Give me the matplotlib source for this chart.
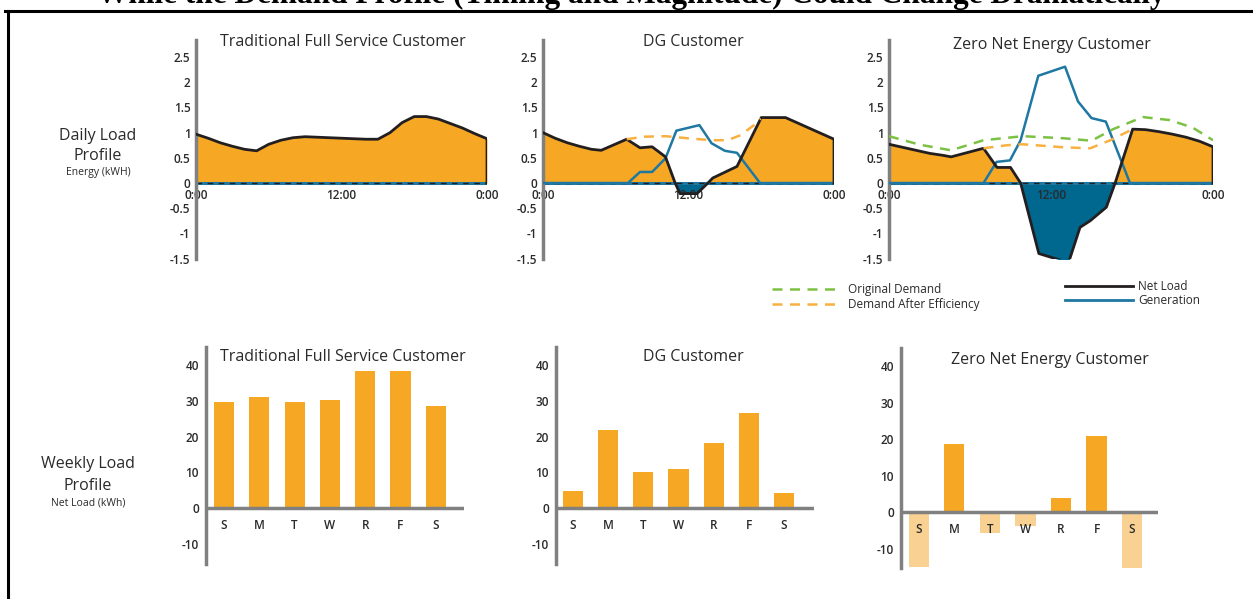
import numpy as np
import matplotlib.pyplot as plt
from matplotlib.lines import Line2D
from matplotlib.ticker import FuncFormatter

plt.rcParams['font.family'] = ['Open Sans', 'DejaVu Sans']
plt.rcParams['axes.unicode_minus'] = False

# ---- daily load profiles (kWh) ----
trad_hours = list(range(25))
trad_net = [0.97, 0.89, 0.80, 0.73, 0.67, 0.64, 0.77, 0.85, 0.90, 0.92, 0.91, 0.90, 0.89,
            0.88, 0.87, 0.87, 1.00, 1.20, 1.32, 1.32, 1.27, 1.18, 1.09, 0.98, 0.88]

dg_hours = [0, 1, 2, 3, 4, 4.8, 6.9, 8.0, 9.0, 10.1, 10.9, 11.3, 12.7, 13.6, 14.0, 16.0, 18.0, 20.0, 24.0]
dg_net = [1.0, 0.89, 0.80, 0.73, 0.67, 0.65, 0.87, 0.70, 0.72, 0.52, 0.0, -0.21, -0.21, 0.0, 0.1, 0.33, 1.3, 1.3, 0.87]
dg_eff_hours = [6.9, 8.3, 10.1, 11.9, 13.9, 15.2, 16.3, 17.4, 17.95]
dg_eff = [0.87, 0.92, 0.93, 0.89, 0.85, 0.85, 0.95, 1.15, 1.28]
dg_gen_hours = [0, 7.0, 8.0, 9.0, 10.1, 11.0, 12.9, 13.9, 15.0, 16.0, 17.9, 24]
dg_gen = [0, 0, 0.22, 0.22, 0.49, 1.04, 1.15, 0.79, 0.64, 0.60, 0, 0]

zne_hours = [0, 1, 2, 3, 4, 4.6, 7.0, 8.0, 9.0, 9.75, 11.1, 13.3, 14.15, 14.9, 16.1, 16.75,
             18.05, 19, 20, 21, 22, 23, 24]
zne_net = [0.77, 0.71, 0.65, 0.59, 0.55, 0.52, 0.69, 0.31, 0.31, 0.0, -1.4, -1.58, -0.88, -0.75,
           -0.48, 0.0, 1.07, 1.06, 1.02, 0.97, 0.91, 0.83, 0.72]
zne_orig_hours = [0, 2.3, 4.6, 7.0, 9.9, 12.9, 15.0, 16.6, 18.8, 20.8, 22.5, 24]
zne_orig = [0.93, 0.76, 0.65, 0.85, 0.93, 0.89, 0.84, 1.07, 1.31, 1.25, 1.10, 0.85]
zne_eff_hours = [7.0, 8.7, 9.9, 12.9, 14.9, 16.4, 18.05]
zne_eff = [0.69, 0.75, 0.77, 0.71, 0.69, 0.85, 1.07]
zne_gen_hours = [0, 7.0, 7.97, 8.96, 9.75, 11.06, 13.04, 14.0, 15.0, 16.06, 17.85, 24]
zne_gen = [0, 0, 0.42, 0.45, 0.85, 2.13, 2.31, 1.62, 1.29, 1.22, 0, 0]

# ---- weekly net load (kWh) ----
days = ['S', 'M', 'T', 'W', 'R', 'F', 'S']
trad_week = [29.6, 31.0, 29.6, 30.3, 38.2, 38.2, 28.5]
dg_week = [4.8, 21.8, 10.0, 10.9, 18.3, 26.7, 4.1]
zne_week = [-15.0, 18.8, -5.6, -3.8, 3.75, 20.9, -15.4]

titles = ['Traditional Full Service Customer', 'DG Customer', 'Zero Net Energy Customer']

ORANGE = '#F6A824'
LIGHT = '#F8D193'
DARKBLUE = '#00678F'
GENBLUE = '#1E78A2'
BLACK = '#231F20'
GREEN = '#7CC143'
ORDASH = '#F8B040'
GRAY = '#808080'
TXT = '#2A2A2A'

W, H = 1253, 599
fig = plt.figure(figsize=(W / 100, H / 100), dpi=100, facecolor='white')


def add_ax(left, top, right, bottom):
    return fig.add_axes([left / W, 1 - bottom / H, (right - left) / W, (bottom - top) / H])


def daily(ax, hours, net, title, tx, ty, orig=None, eff=None, gen=None):
    h = np.array(hours, float)
    n = np.array(net, float)
    ax.fill_between(h, n, 0, where=n >= 0, interpolate=True, color=ORANGE, lw=0)
    ax.fill_between(h, n, 0, where=n <= 0, interpolate=True, color=DARKBLUE, lw=0)
    ax.plot([0, 24], [0, 0], color=GENBLUE, lw=2.2)
    ax.plot([0, 24], [0, 0], color=BLACK, lw=1.0, ls=(0, (4, 4)))
    if gen is not None:
        ax.plot(gen[0], gen[1], color=GENBLUE, lw=1.8, zorder=4)
    ax.plot(list(h) + [24], list(n) + [0], color=BLACK, lw=2, zorder=5)
    if eff is not None:
        ax.plot(eff[0], eff[1], color=ORDASH, lw=1.8, ls=(0, (4, 3)), zorder=6)
    if orig is not None:
        ax.plot(orig[0], orig[1], color=GREEN, lw=1.8, ls=(0, (4, 3)), zorder=6)
    ax.set_xlim(0, 24)
    ax.set_ylim(-1.5, 2.84)
    ax.set_yticks([2.5, 2, 1.5, 1, 0.5, 0, -0.5, -1, -1.5])
    ax.yaxis.set_major_formatter(FuncFormatter(lambda v, p: '%g' % v))
    ax.set_xticks([0, 12, 24])
    ax.set_xticklabels(['0:00', '12:00', '0:00'])
    ax.get_xticklabels()[0].set_ha('left')
    ax.spines['bottom'].set_position(('data', 0))
    ax.spines['bottom'].set_visible(False)
    for s in ['top', 'right']:
        ax.spines[s].set_visible(False)
    ax.spines['left'].set_color(GRAY)
    ax.spines['left'].set_linewidth(2.5)
    ax.tick_params(axis='y', length=0, pad=4, labelsize=8.5, labelcolor=TXT)
    ax.tick_params(axis='x', length=0, pad=4, labelsize=8.5, labelcolor=TXT)
    for t in ax.get_xticklabels() + ax.get_yticklabels():
        t.set_fontweight('semibold')
    ax.patch.set_alpha(0)
    fig.text(tx / W, 1 - ty / H, title, ha='center', va='center', fontsize=11.5, color=TXT)


ax1 = add_ax(196, 40, 487, 258.6)
daily(ax1, trad_hours, trad_net, titles[0], 343, 42)
ax2 = add_ax(543, 40, 834, 258.6)
daily(ax2, dg_hours, dg_net, titles[1], 693, 42,
      eff=(dg_eff_hours, dg_eff), gen=(dg_gen_hours, dg_gen))
ax3 = add_ax(889, 40, 1213, 258.6)
daily(ax3, zne_hours, zne_net, titles[2], 1052, 45,
      orig=(zne_orig_hours, zne_orig), eff=(zne_eff_hours, zne_eff),
      gen=(zne_gen_hours, zne_gen))


def weekly(ax, vals, title, tx, ty, xl, xr, ylo, yhi):
    x = np.arange(len(vals))
    cols = [ORANGE if v >= 0 else LIGHT for v in vals]
    ax.set_axisbelow(False)
    ax.bar(x, vals, width=0.57, color=cols, zorder=2)
    ax.axhline(0, color=GRAY, lw=2.5, zorder=3)
    ax.set_xlim(xl, xr)
    ax.set_ylim(ylo, yhi)
    ax.set_yticks([40, 30, 20, 10, 0, -10])
    ax.set_xticks(x)
    ax.set_xticklabels(days)
    ax.spines['bottom'].set_position(('data', 0))
    ax.spines['bottom'].set_visible(False)
    for s in ['top', 'right']:
        ax.spines[s].set_visible(False)
    ax.spines['left'].set_color(GRAY)
    ax.spines['left'].set_linewidth(2.5)
    ax.tick_params(axis='y', length=0, pad=5, labelsize=8.5, labelcolor=TXT)
    ax.tick_params(axis='x', length=0, pad=8, labelsize=8.5, labelcolor=TXT)
    for t in ax.get_xticklabels() + ax.get_yticklabels():
        t.set_fontweight('semibold')
    ax.patch.set_alpha(0)
    fig.text(tx / W, 1 - ty / H, title, ha='center', va='center', fontsize=11.5, color=TXT)


bx1 = add_ax(206, 347, 464, 564)
weekly(bx1, trad_week, titles[0], 343, 357, -0.51, 6.8, -15.6, 45.0)
bx2 = add_ax(556, 347, 814, 564)
weekly(bx2, dg_week, titles[1], 693, 357, -0.48, 6.85, -15.6, 45.0)
bx3 = add_ax(901, 348, 1158, 568)
weekly(bx3, zne_week, titles[2], 1050, 360, -0.5, 6.73, -15.3, 45.0)

# legends
leg1 = fig.legend(handles=[Line2D([], [], color=GREEN, lw=1.8, ls=(0, (4, 3))),
                           Line2D([], [], color=ORDASH, lw=1.8, ls=(0, (4, 3)))],
                  labels=['Original Demand', 'Demand After Efficiency'],
                  loc='upper left', bbox_to_anchor=(772 / W, 1 - 283 / H), frameon=False,
                  fontsize=8.5, handlelength=5.8, handletextpad=0.6, labelspacing=0.2,
                  borderpad=0, borderaxespad=0, labelcolor=TXT)
leg2 = fig.legend(handles=[Line2D([], [], color=BLACK, lw=2),
                           Line2D([], [], color=GENBLUE, lw=2)],
                  labels=['Net Load', 'Generation'],
                  loc='upper left', bbox_to_anchor=(1065 / W, 1 - 280 / H), frameon=False,
                  fontsize=8.5, handlelength=5.8, handletextpad=0.4, labelspacing=0.1,
                  borderpad=0, borderaxespad=0, labelcolor=TXT)

# row labels
fig.text(98 / W, 1 - 136 / H, 'Daily Load', ha='center', va='center', fontsize=11.5, color=TXT)
fig.text(98 / W, 1 - 156 / H, 'Profile', ha='center', va='center', fontsize=11.5, color=TXT)
fig.text(98 / W, 1 - 173 / H, 'Energy (kWH)', ha='center', va='center', fontsize=7.5, color=TXT)
fig.text(88 / W, 1 - 464 / H, 'Weekly Load', ha='center', va='center', fontsize=11.5, color=TXT)
fig.text(88 / W, 1 - 486 / H, 'Profile', ha='center', va='center', fontsize=11.5, color=TXT)
fig.text(88 / W, 1 - 503 / H, 'Net Load (kWh)', ha='center', va='center', fontsize=7.5, color=TXT)

# frame and cut-off heading
fig.add_artist(Line2D([5 / W, 1], [1 - 10.5 / H, 1 - 10.5 / H], color='black', lw=2.2))
fig.add_artist(Line2D([7.5 / W, 7.5 / W], [0, 1 - 10.5 / H], color='black', lw=2.2))
fig.text(631 / W, 1 - 3 / H, 'While the Demand Profile (Timing and Magnitude) Could Change Dramatically',
         ha='center', va='baseline', fontsize=22.5, fontweight='bold', family='Liberation Serif')

fig.savefig('out.png', dpi=100)
